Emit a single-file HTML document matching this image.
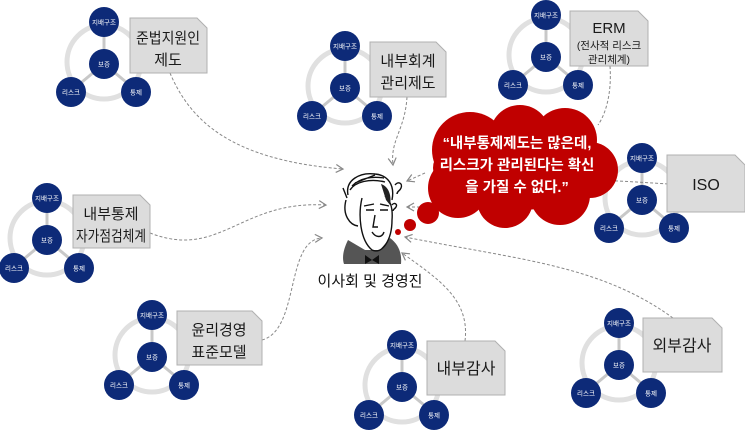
<!DOCTYPE html>
<html><head><meta charset="utf-8"><style>
html,body{margin:0;padding:0;background:#fff;}
svg{display:block;}
text{font-family:"Liberation Sans","Noto Sans CJK KR",sans-serif;}
</style></head><body>
<svg width="745" height="431" viewBox="0 0 745 431" xmlns="http://www.w3.org/2000/svg">
<defs>
<g id="cl">
  <circle cx="0" cy="40" r="37" fill="none" stroke="#e0e0e0" stroke-width="5"/>
  <line x1="0" y1="14" x2="0" y2="28" stroke="#c8c8c8" stroke-width="3"/>
  <line x1="-10" y1="50" x2="-22" y2="60" stroke="#c8c8c8" stroke-width="3"/>
  <line x1="10" y1="50" x2="22" y2="60" stroke="#c8c8c8" stroke-width="3"/>
  <circle cx="0" cy="0" r="15" fill="#0d2a78"/>
  <circle cx="0" cy="42" r="15" fill="#0d2a78"/>
  <circle cx="-33" cy="70" r="15" fill="#0d2a78"/>
  <circle cx="32" cy="70" r="15" fill="#0d2a78"/>
  <text x="0" y="2.5" font-size="6.5" fill="#fff" text-anchor="middle">지배구조</text>
  <text x="0" y="44.5" font-size="6.5" fill="#fff" text-anchor="middle">보증</text>
  <text x="-33" y="72.5" font-size="6.5" fill="#fff" text-anchor="middle">리스크</text>
  <text x="32" y="72.5" font-size="6.5" fill="#fff" text-anchor="middle">통제</text>
</g>
<marker id="ah" markerWidth="10" markerHeight="10" refX="8" refY="5" orient="auto" markerUnits="userSpaceOnUse">
  <path d="M1,1 L8,5 L1,9" fill="none" stroke="#888" stroke-width="1.2"/>
</marker>
</defs>

<use href="#cl" x="104" y="22"/>
<use href="#cl" x="345" y="46"/>
<use href="#cl" x="546" y="15"/>
<use href="#cl" x="642" y="158"/>
<use href="#cl" x="47" y="198"/>
<use href="#cl" x="152" y="315"/>
<use href="#cl" x="402" y="345"/>
<use href="#cl" x="619" y="323"/>

<g fill="none" stroke="#888" stroke-width="1" stroke-dasharray="3,2">
  <path d="M170,73 C190,120 230,160 343,169" marker-end="url(#ah)"/>
  <path d="M407,97 C405,130 390,140 393,165" marker-end="url(#ah)"/>
  <path d="M610,66 C612,95 605,115 598,125"/>
  <path d="M425,173 L407,181" marker-end="url(#ah)"/>
  <path d="M668,184 C640,182 600,180 590,180"/>
  <path d="M425,207 L407,207" marker-end="url(#ah)"/>
  <path d="M150,233 C220,260 240,200 326,205" marker-end="url(#ah)"/>
  <path d="M262,340 C300,330 285,240 322,238" marker-end="url(#ah)"/>
  <path d="M465,341 C470,300 440,280 402,253" marker-end="url(#ah)"/>
  <path d="M673,318 C600,265 520,260 405,237" marker-end="url(#ah)"/>
</g>

<g fill="#dcdcdc" stroke="#b0b0b0" stroke-width="1">
  <path d="M130,18 H197 L207,28 V73 H130 Z"/>
  <path d="M370,42 H436 L446,52 V97 H370 Z"/>
  <path d="M570,11 H638 L648,21 V66 H570 Z"/>
  <path d="M667,155 H735 L745,165 V212 H667 Z"/>
  <path d="M73,195 H140 L150,205 V248 H73 Z"/>
  <path d="M177,311 H252 L262,321 V365 H177 Z"/>
  <path d="M427,341 H495 L505,351 V395 H427 Z"/>
  <path d="M643,318 H712 L722,328 V372 H643 Z"/>
</g>
<g font-size="15" fill="#1a1a1a" text-anchor="middle">
  <text x="168" y="43" textLength="64" lengthAdjust="spacingAndGlyphs">준법지원인</text><text x="168" y="65">제도</text>
  <text x="408" y="66">내부회계</text><text x="408" y="88">관리제도</text>
  <text x="609" y="33" font-size="15">ERM</text>
  <text x="609" y="49" font-size="10.5">(전사적 리스크</text>
  <text x="609" y="63" font-size="10.5">관리체계)</text>
  <text x="706" y="190" font-size="16">ISO</text>
  <text x="111" y="219">내부통제</text><text x="111" y="241" textLength="70" lengthAdjust="spacingAndGlyphs">자가점검체계</text>
  <text x="219" y="335">윤리경영</text><text x="219" y="357">표준모델</text>
  <text x="466" y="374" font-size="16">내부감사</text>
  <text x="682" y="351" font-size="16">외부감사</text>
</g>

<g fill="#c00000">
  <circle cx="470" cy="150" r="38"/>
  <circle cx="520" cy="135" r="30"/>
  <circle cx="565" cy="140" r="32"/>
  <circle cx="590" cy="170" r="28"/>
  <circle cx="560" cy="195" r="30"/>
  <circle cx="505" cy="200" r="28"/>
  <circle cx="458" cy="188" r="30"/>
  <ellipse cx="518" cy="168" rx="85" ry="42"/>
  <circle cx="428" cy="213" r="11"/>
  <circle cx="410" cy="225" r="6"/>
  <circle cx="398" cy="232" r="3"/>
</g>
<g font-size="14.5" fill="#fff" text-anchor="middle" font-weight="bold">
  <text x="517" y="148">“내부통제제도는 많은데,</text>
  <text x="517" y="170">리스크가 관리된다는 확신</text>
  <text x="517" y="192">을 가질 수 없다.”</text>
</g>

<!-- person -->
<path d="M348,240 C343,250 342,258 344,264 H401 C402,252 398,244 390,238 L380,250 L365,250 Z" fill="#555"/>
<g stroke="#111" fill="none" stroke-width="1.4">
  <path d="M348,195 C345,180 360,172 375,174 C388,175 395,185 392,200"/>
  <path d="M350,190 C355,182 370,178 385,182 M352,186 C360,178 372,176 384,178 M355,183 l20,-8 M347,198 l-4,-10"/>
  <path d="M346,200 C342,215 350,225 358,226"/>
  <path d="M362,198 C358,215 360,240 372,250 C382,255 392,240 392,220 C393,208 390,200 385,196"/>
  <path d="M366,210 h8 M380,210 h8 M364,206 l10,-2 M380,204 l9,2"/>
  <path d="M375,215 l-2,12 h5"/>
  <path d="M372,232 C376,238 382,238 384,232"/>
  <path d="M395,185 c3,-4 8,-2 6,3 c-1,3 -4,3 -4,6"/>
  <path d="M392,205 c2,-3 6,-1 4,2 c-1,2 -3,2 -3,4"/>
</g>
<path d="M381,184 C388,186 392,195 390,205 L386,200 Z" fill="#222"/>
<path d="M365,255 L372,260 L365,264 Z M379,255 L372,260 L379,264 Z" fill="#111"/>
<text x="370" y="286" font-size="15" fill="#111" text-anchor="middle">이사회 및 경영진</text>
</svg>
</body></html>
